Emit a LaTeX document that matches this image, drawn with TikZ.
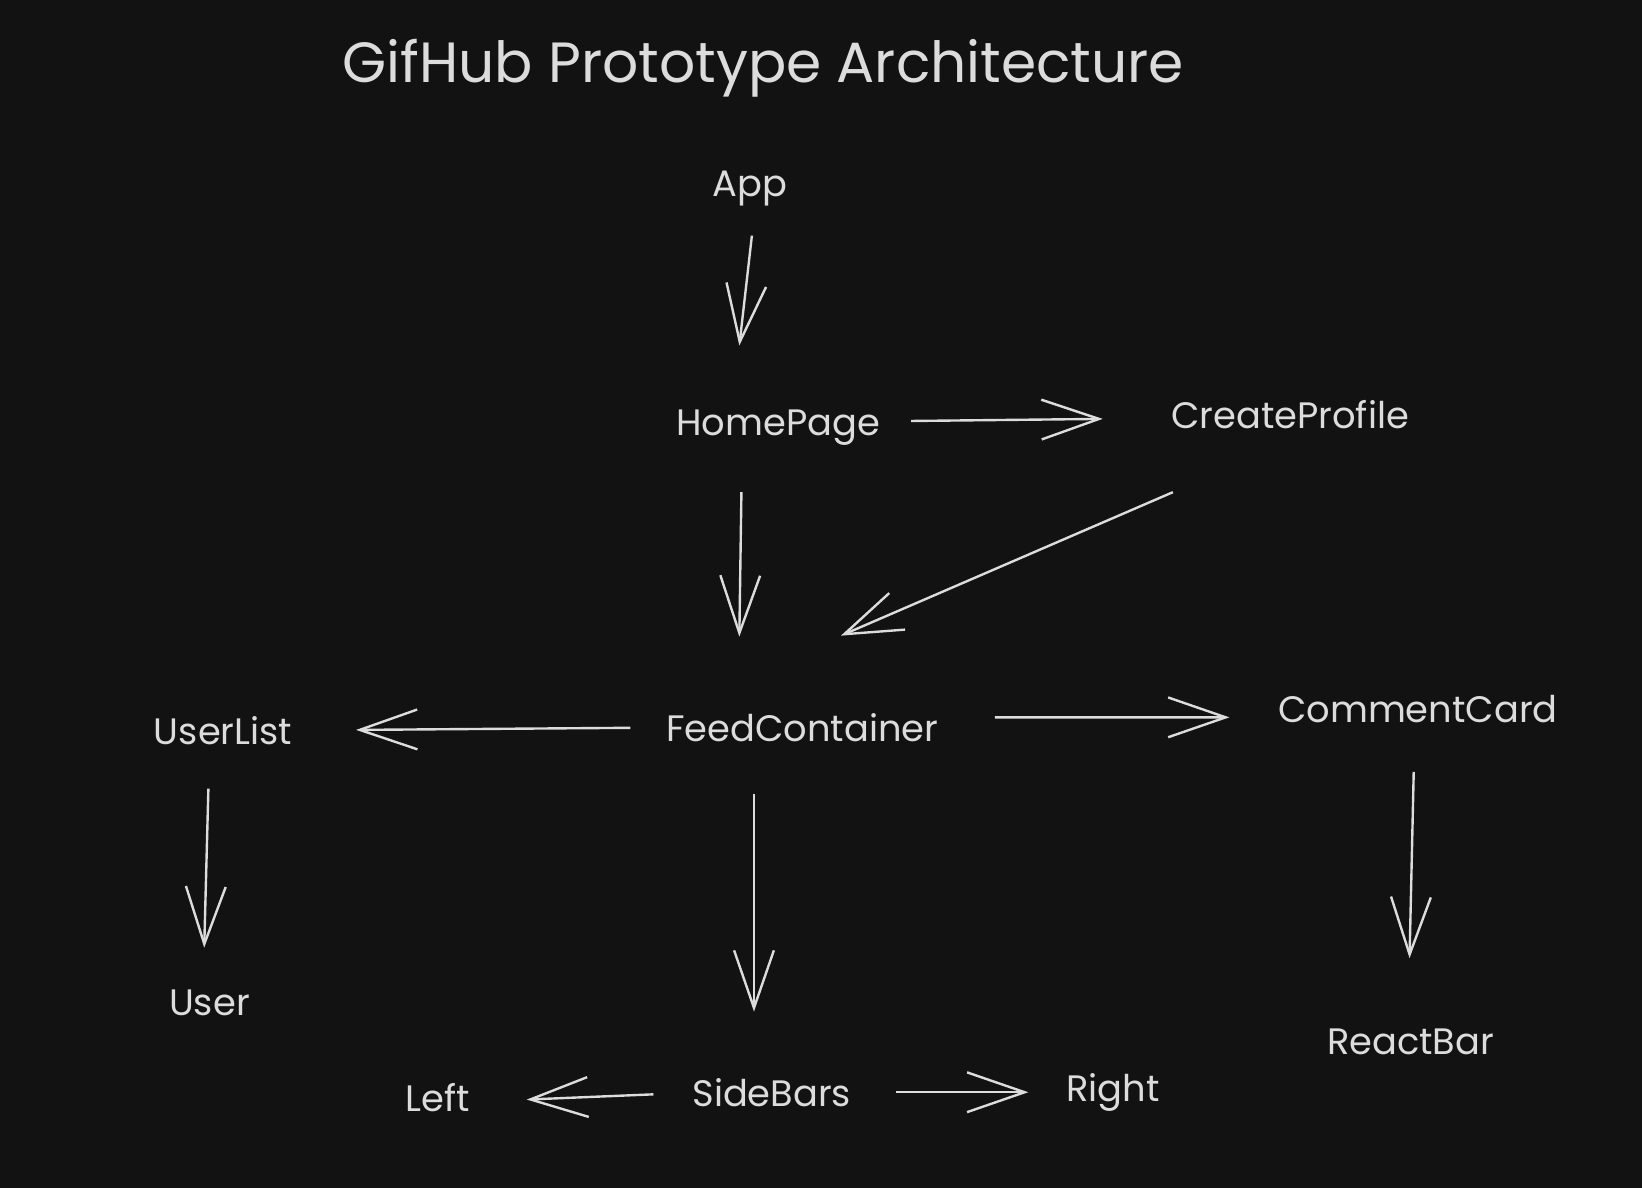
\documentclass[tikz,border=0pt]{standalone}
\usepackage{fontspec}
\setmainfont{Poppins}
\usepackage{xcolor}
\usepackage{tikz}
\usetikzlibrary{arrows.meta}

\definecolor{bgdark}{HTML}{121212}
\definecolor{chalk}{HTML}{DCDCDC}

\tikzset{
    comp/.style = {text = chalk, inner sep = 0pt, font = \fontsize{10}{12}\selectfont},
    arr/.style = {draw = chalk, line width = 0.65pt,
        -{Straight Barb[length = 5.5mm, width = 3.8mm, line width = 0.65pt]}}
}

\begin{document}
\begin{tikzpicture}
        \fill[bgdark] (0, 0) rectangle (15.68, -11.34);
        \useasboundingbox (0, 0) rectangle (15.68, -11.34);

        \node[comp, font = \fontsize{15.4}{18}\selectfont] (title) at (7.29, -0.65) {GifHub Prototype Architecture};

        \node[comp] (app) at (7.16, -1.80) {App};
        \node[comp] (home) at (7.43, -4.08) {HomePage};
        \node[comp] (create) at (12.32, -3.96) {CreateProfile};
        \node[comp] (feed) at (7.66, -6.95) {FeedContainer};
        \node[comp] (userlist) at (2.13, -6.98) {UserList};
        \node[comp] (comment) at (13.54, -6.77) {CommentCard};
        \node[comp] (user) at (2.00, -9.58) {User};
        \node[comp] (sidebars) at (7.37, -10.43) {SideBars};
        \node[comp] (reactbar) at (13.47, -9.95) {ReactBar};
        \node[comp] (left) at (4.18, -10.48) {Left};
        \node[comp] (right) at (10.63, -10.43) {Right};

        % top part
        \draw[arr] ([shift = {(0.02, -0.45)}]app.center) -- ([shift = {(-0.37, 0.78)}]home.center);
        \draw[arr] ([shift = {(1.27, 0.06)}]home.center) -- ([shift = {(-1.79, -0.04)}]create.center);
        \draw[arr] ([shift = {(-1.12, -0.74)}]create.center) -- ([shift = {(0.37, 0.88)}]feed.center);
        \draw[arr] ([shift = {(-0.35, -0.62)}]home.center) -- ([shift = {(-0.60, 0.87)}]feed.center);

        % feed level
        \draw[arr] ([shift = {(-1.64, 0)}]feed.center) -- ([shift = {(1.27, 0.01)}]userlist.center);
        \draw[arr] ([shift = {(1.84, 0.10)}]feed.center) -- ([shift = {(-1.80, -0.08)}]comment.center);
        \draw[arr] ([shift = {(-0.14, -0.55)}]userlist.center) -- ([shift = {(-0.05, 0.53)}]user.center);
        \draw[arr] ([shift = {(-0.46, -0.63)}]feed.center) -- ([shift = {(-0.17, 0.77)}]sidebars.center);
        \draw[arr] ([shift = {(-0.04, -0.60)}]comment.center) -- ([shift = {(-0.01, 0.80)}]reactbar.center);

        % sidebars
        \draw[arr] ([shift = {(-1.13, -0.02)}]sidebars.center) -- ([shift = {(0.85, -0.02)}]left.center);
        \draw[arr] ([shift = {(1.19, 0)}]sidebars.center) -- ([shift = {(-0.81, 0)}]right.center);
\end{tikzpicture}
\end{document}
